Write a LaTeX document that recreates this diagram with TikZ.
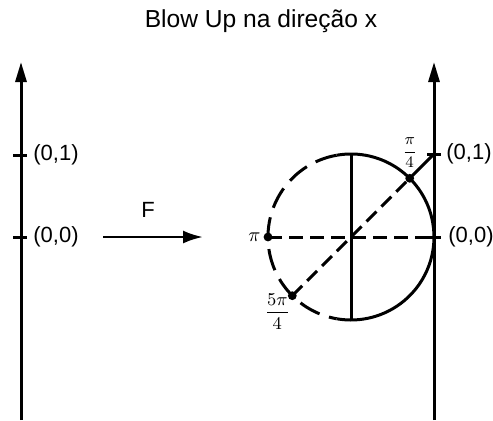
\documentclass[tikz,border=0pt]{standalone}
\usepackage{fontspec}
\setmainfont{Liberation Sans}
\usepackage{tikz}
\usetikzlibrary{positioning,arrows.meta}

\begin{document}
\begin{tikzpicture}[
  x=0.5pt, y=0.5pt,
  axisline/.style={line width=1.5pt, -{Triangle[length=10pt,width=5.5pt]}},
  tickmark/.style={line width=1.5pt},
  maparrow/.style={line width=1.3pt, -{Latex[length=10pt,width=6.5pt]}},
  curve/.style={line width=1.5pt},
  dashcurve/.style={line width=1.5pt, dash pattern=on 11pt off 5pt},
  dashline/.style={line width=1.5pt, dash pattern=on 7pt off 3.5pt},
  dot/.style={fill=black},
  label/.style={inner sep=0pt, font=\fontsize{11}{13}\selectfont},
  anglelabel/.style={inner sep=0pt}
]
\useasboundingbox (0,0) rectangle (493,420);

\node[font=\fontsize{12.3}{14}\selectfont] (title) at (261,399) {Blow Up na direção x};

% left plane
\coordinate (lbot) at (21,0);
\coordinate (ltop) at (21,358);
\coordinate (l00) at (21,183);
\coordinate (l01) at (21,265);
\draw[axisline] (lbot) -- (ltop);
\draw[tickmark] ([xshift=-4pt]l00) -- ([xshift=3pt]l00);
\draw[tickmark] ([xshift=-4pt]l01) -- ([xshift=3pt]l01);
\node[label, right=6pt of l00] (l00txt) {(0,0)};
\node[label, right=6pt of l01] (l01txt) {(0,1)};

% the map
\coordinate (fa) at (103,183);
\coordinate (fb) at (203,183);
\draw[maparrow] (fa) -- node[label, above=9pt, pos=0.45] (ftxt) {F} (fb);

% right plane
\coordinate (rbot) at (434,0);
\coordinate (rtop) at (434,358);
\coordinate (r00) at (434,183);
\coordinate (r01) at (434,266);
\draw[axisline] (rbot) -- (rtop);
\draw[tickmark] ([xshift=-3.5pt]r00) -- ([xshift=3.5pt]r00);
\draw[tickmark] ([xshift=-3.5pt]r01) -- ([xshift=3.5pt]r01);
\node[label, right=7pt of r00] (r00txt) {(0,0)};
\node[label, right=6pt of r01] (r01txt) {(0,1)};

% blown up circle
\coordinate (O) at (351,183);
\coordinate (ctop) at ([shift={(0,83)}]O);
\coordinate (cbot) at ([shift={(0,-83)}]O);
\coordinate (pi) at ([shift={(180:83)}]O);
\coordinate (p14) at ([shift={(45:83)}]O);
\coordinate (p54) at ([shift={(225:83)}]O);
\draw[curve] ([shift={(100:83)}]O) arc[start angle=100, end angle=-100, radius=83];
\draw[dashcurve] ([shift={(100:83)}]O) arc[start angle=100, end angle=260, radius=83];
\draw[curve] (ctop) -- (cbot);
\draw[dashline] (pi) -- (r00);
\draw[dashline] (p54) -- (p14);
\draw[curve] (p14) -- (r01);

\fill[dot] (pi) circle[radius=2.2pt];
\fill[dot] (p14) circle[radius=2.2pt];
\fill[dot] (p54) circle[radius=2.2pt];
\node[anglelabel, left=3.5pt of pi] (pitxt) {$\pi$};
\node[anglelabel, above=5pt of p14, font=\footnotesize] (p14txt) {$\displaystyle\frac{\pi}{4}$};
\node[anglelabel, below left=-1pt and 1pt of p54, font=\small] (p54txt) {$\displaystyle\frac{5\pi}{4}$};
\end{tikzpicture}
\end{document}
